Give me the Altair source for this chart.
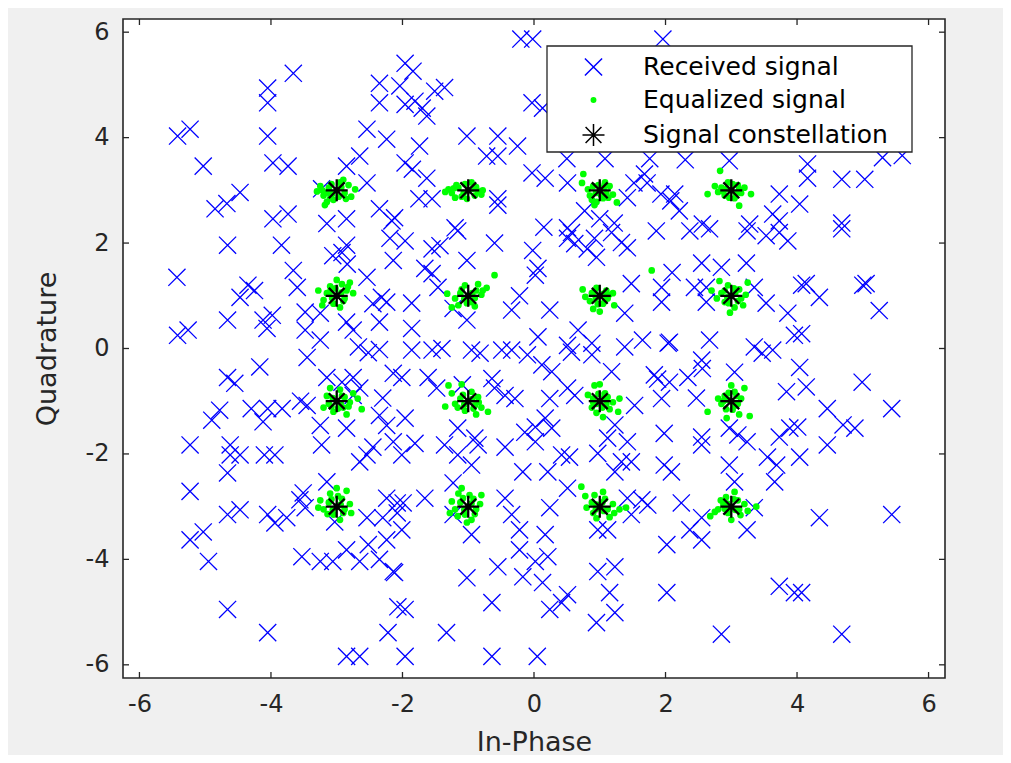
import altair as alt
import pandas as pd

# ---------------- data ----------------
series_names = ["Received signal", "Equalized signal", "Signal constellation"]

received = [
    (-0.2, 5.87), (-0.02, 5.87), (1.96, 5.87), (-1.96, 5.41), (-1.84, 5.26), (-3.66, 5.22),
    (-4.05, 4.94), (-4.05, 4.66), (-2.35, 5.03), (-2.04, 4.98), (-2.35, 4.66), (-1.51, 4.88),
    (-1.36, 4.95), (-1.96, 4.63), (-1.81, 4.69), (-1.7, 4.56), (-1.63, 4.41), (-0.03, 4.66),
    (0.13, 4.56), (-5.42, 4.03), (-5.23, 4.16), (-4.05, 4.03), (-2.54, 4.16), (-2.24, 3.97),
    (-1.02, 4.03), (-0.55, 4.03), (-0.25, 3.84), (-1.74, 3.84), (-5.03, 3.46), (-3.97, 3.52),
    (-3.74, 3.46), (-2.65, 3.65), (-2.85, 3.46), (-0.72, 3.65), (-0.55, 3.65), (-1.96, 3.52),
    (-1.85, 3.4), (-1.63, 3.23), (-0.03, 3.33), (0.17, 3.23), (0.51, 3.14), (-2.54, 3.14),
    (-3.23, 3.03), (-4.47, 2.96), (-4.67, 2.75), (-4.85, 2.65), (-3.97, 2.46), (-3.74, 2.55),
    (-3.15, 2.37), (-2.85, 2.46), (-2.35, 2.65), (-2.16, 2.42), (-1.75, 2.84), (-1.55, 2.84),
    (-0.55, 2.84), (-0.55, 2.72), (0.77, 2.61), (1.0, 2.46), (1.22, 2.38), (1.42, 2.86),
    (1.52, 3.14), (1.72, 3.14), (1.93, 2.93), (2.08, 2.8), (1.68, 3.31), (-2.12, 2.48),
    (-1.2, 2.29), (0.15, 2.3), (0.51, 2.29), (0.5, 3.6), (1.08, 3.6), (1.76, 3.6),
    (2.3, 3.58), (2.97, 3.56), (4.16, 3.5), (4.16, 3.23), (4.68, 3.21), (5.03, 3.21),
    (5.3, 3.62), (5.6, 3.66), (2.14, 2.93), (3.73, 2.93), (4.04, 2.74), (2.21, 2.61),
    (2.56, 2.36), (3.28, 2.36), (3.63, 2.55), (3.73, 2.42), (4.68, 2.38),
    (-4.66, 1.96), (-3.84, 1.96), (-2.85, 1.96), (-3.06, 1.76), (-2.92, 1.82), (-2.84, 1.6),
    (-2.19, 2.09), (-2.14, 1.67), (-5.43, 1.35), (-4.35, 1.2), (-4.25, 1.1), (-4.47, 0.97),
    (-3.66, 1.48), (-3.6, 1.16), (-2.54, 1.35), (-2.32, 0.97), (-2.45, 0.85), (-2.24, 0.88),
    (-4.66, 0.54), (-4.12, 0.54), (-3.98, 0.63), (-4.06, 0.38), (-5.42, 0.25), (-5.26, 0.35),
    (-3.48, 0.69), (-3.25, 0.67), (-3.48, 0.35), (-3.25, 0.16), (-2.85, 0.5), (-2.75, 0.35),
    (-2.35, 0.5), (-2.67, 0.03), (-2.52, -0.08), (-2.35, -0.02), (-3.45, -0.17),
    (-1.16, 2.23), (0.57, 2.2), (0.92, 2.09), (1.18, 2.2), (1.33, 2.01), (1.42, 1.91),
    (1.86, 2.23), (-1.96, 2.04), (-1.55, 1.89), (-1.43, 1.95), (-0.6, 2.0), (-0.02, 1.86),
    (0.51, 2.09), (0.62, 1.99), (0.81, 1.89), (0.95, 1.73), (-1.02, 1.67), (0.06, 1.52),
    (0.02, 1.39), (-1.66, 1.52), (-1.55, 1.42), (-1.46, 1.16), (-1.86, 0.86), (-1.23, 0.76),
    (-1.02, 0.54), (-1.86, 0.38), (-0.22, 1.0), (-0.34, 0.73), (0.24, 0.73), (1.48, 1.23),
    (1.94, 1.16), (1.94, 0.88), (1.38, 0.67), (0.67, 0.35), (0.06, 0.22), (0.88, 0.1),
    (0.51, 0.06), (1.38, 0.03), (1.65, 0.16), (2.04, 0.1),
    (2.37, 2.23), (2.67, 2.27), (3.24, 2.23), (3.53, 2.14), (3.73, 2.2), (3.86, 2.04),
    (4.68, 2.27), (2.55, 1.62), (2.85, 1.54), (3.23, 1.62), (2.1, 1.44), (2.44, 1.16),
    (2.62, 1.16), (3.35, 1.16), (2.62, 0.88), (3.53, 0.86), (3.86, 0.67), (4.07, 1.2),
    (4.14, 1.23), (4.34, 0.97), (5.0, 1.2), (5.05, 1.23), (5.25, 0.72), (2.06, 0.12),
    (2.67, 0.16), (3.35, 0.03), (3.47, -0.09), (3.63, -0.03), (3.96, 0.25), (4.07, 0.28),
    (-4.17, -0.35), (-4.66, -0.55), (-4.55, -0.66), (-3.15, -0.55), (-2.92, -0.64), (-2.75, -0.55),
    (-2.65, -0.75), (-2.14, -0.47), (-4.78, -1.17), (-4.9, -1.36), (-4.3, -1.14), (-4.05, -1.14),
    (-3.83, -1.14), (-4.12, -1.39), (-3.55, -1.0), (-3.45, -1.08), (-3.25, -1.46), (-2.75, -0.89),
    (-2.3, -0.94), (-2.35, -1.27), (-2.24, -1.46), (-2.85, -1.51), (-3.23, -1.83), (-5.23, -1.83),
    (-4.62, -1.83), (-2.45, -1.87), (-2.14, -1.77),
    (-1.86, -0.03), (-1.55, -0.03), (-1.4, 0.0), (-0.95, -0.03), (-0.82, -0.09), (-0.49, -0.03),
    (-0.34, -0.03), (-0.1, -0.12), (0.12, -0.31), (0.27, -0.44), (0.57, -0.07), (0.88, -0.12),
    (1.18, -0.44), (1.83, -0.5), (-2.01, -0.55), (-1.61, -0.55), (-1.48, -0.75), (-1.09, -0.69),
    (-0.64, -0.57), (-0.6, -0.75), (-0.44, -0.89), (-0.29, -0.95), (0.24, -0.95), (0.51, -0.75),
    (0.62, -0.89), (1.53, -1.08), (1.88, -0.58), (1.94, -0.95), (-1.96, -1.32), (-1.16, -1.51),
    (-0.9, -1.7), (-0.85, -1.83), (-1.81, -1.8), (-1.36, -1.83), (-0.44, -1.87), (-0.14, -1.59),
    (0.02, -1.49), (0.02, -1.77), (0.17, -1.32), (0.27, -1.51), (1.23, -1.45), (1.12, -1.7),
    (1.42, -1.77), (1.98, -1.61),
    (2.55, -0.22), (2.56, -0.38), (2.34, -0.55), (3.05, -0.45), (4.04, -0.36), (4.99, -0.64),
    (4.14, -0.73), (3.84, -0.82), (2.47, -0.94), (2.06, -0.64), (4.46, -1.14), (5.44, -1.14),
    (4.01, -1.49), (3.89, -1.51), (3.73, -1.68), (4.7, -1.45), (4.88, -1.51), (2.97, -1.51),
    (3.1, -1.64), (3.24, -1.77), (2.55, -1.68), (2.55, -1.83), (4.46, -1.83),
    (-4.62, -2.02), (-4.47, -2.02), (-3.94, -2.02), (-4.1, -2.02), (-2.65, -2.15), (-2.54, -2.02),
    (-4.66, -2.36), (-5.23, -2.71), (-3.15, -2.53), (-3.51, -2.74), (-3.56, -2.87), (-3.48, -3.02),
    (-2.24, -2.84), (-2.08, -2.93), (-4.66, -3.15), (-4.47, -3.06), (-4.05, -3.15), (-3.94, -3.31),
    (-3.76, -3.21), (-3.03, -3.29), (-2.54, -3.21), (-2.3, -3.21), (-2.08, -3.12), (-5.23, -3.63),
    (-5.03, -3.48), (-4.95, -4.04), (-3.53, -3.95), (-3.25, -4.04), (-3.06, -4.04), (-2.85, -3.82),
    (-2.65, -4.04), (-2.52, -3.72), (-2.35, -4.0), (-2.24, -3.63), (-2.14, -4.23), (-4.66, -4.95),
    (-4.05, -5.39), (-2.22, -5.39), (-2.07, -4.9), (-2.85, -5.84), (-2.65, -5.84),
    (-2.01, -2.02), (-1.16, -2.02), (-0.95, -2.21), (-0.17, -2.34), (0.21, -2.34), (0.42, -2.02),
    (0.54, -2.06), (0.97, -1.99), (1.33, -2.15), (1.48, -2.15), (1.23, -2.34), (1.98, -2.21),
    (2.09, -2.34), (-1.23, -2.55), (0.51, -2.65), (-1.66, -2.84), (-0.44, -2.84), (-0.34, -3.15),
    (0.24, -3.02), (-1.99, -2.93), (-2.01, -3.44), (-0.95, -3.53), (-1.23, -3.15), (-0.22, -3.44),
    (0.17, -3.53), (0.97, -3.44), (1.12, -3.44), (1.42, -2.84), (1.64, -2.87), (1.73, -2.97),
    (1.48, -3.15), (-0.22, -3.82), (0.02, -4.04), (0.21, -3.95), (-0.55, -4.14), (-1.02, -4.35),
    (-0.17, -4.33), (0.13, -4.44), (0.97, -4.23), (1.23, -4.14), (1.15, -4.63), (0.51, -4.67),
    (0.42, -4.82), (0.24, -4.95), (1.23, -5.01), (0.95, -5.2), (-0.64, -4.82), (-1.96, -4.95),
    (-1.33, -5.39), (-1.96, -5.84), (-0.64, -5.84), (0.05, -5.84), (2.02, -3.72), (2.02, -4.63),
    (-2.12, -4.25),
    (2.97, -2.21), (3.05, -2.53), (3.55, -2.06), (3.69, -2.21), (3.66, -2.53), (4.04, -2.06),
    (2.24, -2.93), (2.55, -3.21), (2.37, -3.44), (2.55, -3.63), (3.24, -3.44), (3.35, -3.02),
    (4.34, -3.21), (5.44, -3.15), (3.73, -4.51), (3.96, -4.63), (4.07, -4.63), (2.85, -5.42),
    (4.68, -5.42),
]

equalized = [
    # around (-3, 3)
    (-3.0, 3.0), (-3.12, 3.05), (-2.88, 2.95), (-3.2, 2.9), (-3.25, 3.08), (-2.82, 3.1), (-3.05, 2.82),
    (-2.95, 3.15), (-3.15, 2.78), (-2.78, 2.88), (-3.3, 2.98), (-2.9, 3.2), (-3.08, 3.12), (-2.72, 3.02),
    (-3.18, 2.72), (-2.93, 3.06), (-3.07, 2.93), (-2.86, 2.84), (-3.14, 2.96), (-2.97, 2.88),
    (-3.1, 2.85), (-3.22, 3.0),
    # around (-1, 3)
    (-1.0, 3.0), (-1.15, 3.05), (-1.25, 2.95), (-0.88, 3.06), (-0.8, 2.92), (-1.1, 2.88), (-0.95, 3.15),
    (-1.3, 3.02), (-1.05, 3.12), (-0.78, 3.0), (-1.2, 2.86), (-0.9, 2.9), (-1.35, 2.97),
    (-1.07, 2.95), (-0.93, 3.03), (-1.18, 3.1), (-0.85, 2.98), (-1.02, 2.84), (-1.22, 3.04),
    # around (1, 3)
    (1.0, 3.0), (0.9, 3.08), (1.1, 2.95), (0.85, 2.9), (1.15, 3.08), (1.05, 2.85), (0.95, 2.78),
    (1.2, 2.92), (0.82, 3.02), (1.08, 3.15), (1.26, 2.77), (0.75, 3.31), (0.73, 3.14), (0.92, 2.72),
    (0.94, 2.95), (1.06, 3.05), (0.88, 2.82), (1.13, 2.86), (0.98, 3.1), (1.02, 2.91),
    # around (3, 3)
    (3.0, 3.0), (2.85, 3.05), (3.15, 2.95), (2.9, 2.9), (3.1, 3.1), (2.8, 2.97), (3.2, 3.05),
    (2.95, 3.15), (3.05, 2.85), (2.83, 3.37), (2.64, 2.93), (3.12, 2.71), (3.3, 2.93), (2.75, 3.08),
    (2.93, 3.03), (3.07, 2.94), (2.97, 2.86), (3.12, 3.02), (2.88, 2.98), (3.02, 3.12),
    # around (-3, 1)
    (-3.0, 1.0), (-3.15, 1.05), (-2.85, 1.1), (-3.2, 0.92), (-2.92, 1.22), (-2.8, 1.25), (-3.05, 0.85),
    (-3.28, 1.1), (-2.88, 0.95), (-3.1, 1.18), (-2.95, 0.78), (-3.22, 0.82), (-2.75, 1.05), (-3.0, 1.3),
    (-3.07, 0.96), (-2.93, 1.06), (-3.1, 1.08), (-2.9, 0.9), (-3.02, 1.14), (-2.83, 1.17),
    # around (-1, 1)
    (-1.0, 1.0), (-1.12, 1.05), (-0.88, 1.1), (-0.95, 0.88), (-1.2, 0.95), (-0.8, 1.02), (-1.05, 1.2),
    (-0.85, 1.22), (-1.15, 0.82), (-0.72, 1.15), (-0.6, 1.39), (-1.32, 1.04), (-1.25, 0.78), (-0.9, 0.8),
    (-1.06, 0.94), (-0.94, 1.05), (-1.1, 1.12), (-0.9, 0.96), (-1.02, 0.86), (-0.78, 1.1),
    # around (1, 1)
    (1.0, 1.0), (0.88, 1.05), (1.12, 0.95), (0.85, 0.9), (1.1, 1.1), (0.95, 1.15), (0.78, 0.98),
    (1.2, 1.05), (1.05, 0.85), (0.9, 0.75), (1.22, 0.82), (0.74, 1.12), (1.79, 1.48), (1.0, 0.7),
    (0.94, 0.96), (1.06, 1.04), (0.92, 1.08), (1.08, 0.92), (0.97, 0.84), (1.14, 1.02),
    # around (3, 1)
    (3.0, 1.0), (2.85, 1.05), (3.15, 0.95), (2.9, 0.88), (3.12, 1.12), (2.95, 1.2), (2.78, 0.95),
    (3.22, 1.02), (3.05, 0.78), (2.7, 1.1), (3.25, 1.25), (2.82, 1.28), (2.98, 0.68), (3.18, 0.82),
    (2.94, 0.97), (3.06, 1.05), (2.9, 1.1), (3.1, 0.9), (2.96, 0.86), (3.04, 1.14),
    # around (-3, -1)
    (-3.0, -1.0), (-2.88, -0.92), (-3.12, -1.05), (-2.9, -1.12), (-3.15, -0.9), (-2.8, -1.02),
    (-3.05, -1.2), (-2.75, -0.85), (-3.2, -1.12), (-2.95, -0.78), (-2.68, -0.95), (-3.1, -0.75),
    (-2.85, -1.25), (-2.62, -1.15), (-2.94, -1.04), (-3.06, -0.94), (-2.92, -0.9), (-3.08, -1.1),
    (-2.98, -1.14), (-2.82, -1.1),
    # around (-1, -1)
    (-1.0, -1.0), (-0.9, -1.08), (-1.12, -0.95), (-0.85, -0.92), (-1.2, -1.05), (-1.05, -1.18),
    (-0.8, -1.12), (-1.25, -0.85), (-0.95, -0.82), (-1.35, -1.1), (-0.7, -1.2), (-1.1, -0.68),
    (-1.3, -0.7), (-0.88, -1.25), (-1.06, -1.06), (-0.94, -0.96), (-1.08, -0.88), (-0.92, -1.14),
    (-1.16, -1.12), (-0.84, -1.02),
    # around (1, -1)
    (1.0, -1.0), (0.9, -0.95), (1.1, -1.05), (0.88, -1.12), (1.08, -0.85), (1.2, -1.02), (0.82, -0.88),
    (0.95, -1.22), (1.15, -1.15), (1.3, -0.95), (1.05, -1.3), (0.92, -0.7), (1.0, -0.68), (1.28, -1.2),
    (0.95, -1.05), (1.06, -0.94), (0.98, -0.86), (1.12, -0.92), (0.9, -1.02), (1.04, -1.12),
    # around (3, -1)
    (3.0, -1.0), (2.9, -0.9), (3.1, -1.05), (2.85, -1.05), (3.05, -0.82), (3.15, -0.95), (2.92, -1.15),
    (3.2, -0.75), (2.8, -0.95), (3.0, -0.7), (2.64, -1.2), (3.28, -1.28), (2.93, -1.32), (3.12, -1.25),
    (2.95, -0.97), (3.06, -1.08), (2.96, -0.84), (3.08, -0.9), (2.88, -1.0), (3.02, -1.16),
    # around (-3, -3)
    (-3.0, -3.0), (-3.12, -2.92), (-2.88, -3.05), (-3.05, -3.15), (-2.92, -2.85), (-3.2, -3.05),
    (-2.8, -2.95), (-3.1, -2.75), (-2.95, -3.25), (-3.25, -2.88), (-2.78, -3.12), (-2.85, -2.7),
    (-3.28, -3.02), (-3.0, -2.65), (-2.94, -2.96), (-3.06, -3.06), (-3.08, -2.86), (-2.9, -3.12),
    (-3.14, -3.14), (-2.98, -2.8),
    # around (-1, -3)
    (-1.0, -3.0), (-1.12, -2.92), (-0.88, -3.05), (-1.05, -3.15), (-0.92, -2.85), (-1.2, -3.05),
    (-0.82, -2.95), (-1.15, -2.75), (-0.95, -3.25), (-1.25, -2.9), (-1.28, -3.12), (-0.8, -2.78),
    (-1.1, -2.65), (-1.02, -3.3), (-0.95, -2.94), (-1.06, -3.06), (-1.08, -2.84), (-0.9, -3.14),
    (-1.16, -3.18), (-0.98, -2.78),
    # around (1, -3)
    (1.0, -3.0), (0.88, -2.92), (1.12, -3.05), (0.9, -3.12), (1.08, -2.85), (1.2, -2.95), (0.8, -3.02),
    (0.95, -3.22), (1.15, -3.2), (1.3, -3.05), (0.78, -2.8), (0.72, -2.62), (1.4, -3.02), (1.05, -2.72),
    (0.92, -2.78), (0.95, -2.96), (1.06, -3.08), (0.94, -3.05), (1.04, -2.92), (1.22, -3.12),
    # around (3, -3)
    (3.0, -3.0), (2.88, -2.95), (3.12, -3.05), (2.95, -3.12), (3.1, -2.88), (2.8, -3.05), (3.2, -2.95),
    (2.75, -3.1), (3.05, -2.72), (3.25, -3.08), (2.68, -3.18), (3.38, -3.0), (2.92, -2.82), (3.0, -3.25),
    (2.94, -2.94), (3.06, -3.06), (3.04, -2.86), (2.9, -3.04), (3.14, -3.16), (2.84, -2.88),
]

constellation = [
    (-3, 3), (-1, 3), (1, 3), (3, 3),
    (-3, 1), (-1, 1), (1, 1), (3, 1),
    (-3, -1), (-1, -1), (1, -1), (3, -1),
    (-3, -3), (-1, -3), (1, -3), (3, -3),
]

tick_values = [-6, -4, -2, 0, 2, 4, 6]

# ---------------- build table ----------------
rows = []
for name, pts in zip(series_names, [received, equalized, constellation]):
    for (a, b) in pts:
        rows.append({"I": a, "Q": b, "s": name})
df = pd.DataFrame(rows)
ticks_df = pd.DataFrame({"t": tick_values})

FONT = "DejaVu Sans"
INK = "#262626"
GREEN = "#00ff00"
W, H = 822, 659

xs = alt.Scale(domain=[-6.25, 6.25], nice=False, zero=False)
ys = alt.Scale(domain=[-6.25, 6.25], nice=False, zero=False)

LBL = "'' + datum.value"
x_axis = alt.Axis(values=tick_values, title="In-Phase", grid=False, domain=False, ticks=False,
                  tickSize=0, labelPadding=14, titlePadding=13, labelExpr=LBL)
y_axis = alt.Axis(values=tick_values, title="Quadrature", grid=False, domain=False, ticks=False,
                  tickSize=0, labelPadding=14, titlePadding=24, labelExpr=LBL)

# marker outlines (open paths have no area, so only the dot gets the green fill)
x_path = "M-0.78,-0.78L0.78,0.78M-0.78,0.78L0.78,-0.78"
dot_path = "M-0.2,0A0.2,0.2,0,1,1,0.2,0A0.2,0.2,0,1,1,-0.2,0Z"
star_path = "M-1,0L1,0M0,-1L0,1M-0.72,-0.72L0.72,0.72M-0.72,0.72L0.72,-0.72"

leg = alt.Legend(title=None, orient="none", legendX=458, legendY=35.5, padding=0,
                 labelFontSize=25, labelFont=FONT, labelColor="#000000", labelLimit=0,
                 symbolSize=484, symbolStrokeWidth=1.5, symbolFillColor=GREEN,
                 labelOffset=37, rowPadding=7,
                 strokeColor="transparent", fillColor="transparent")

points = alt.Chart(df).mark_point(filled=False, size=484, opacity=1, fill=GREEN, fillOpacity=1).encode(
    x=alt.X("I:Q", scale=xs, axis=x_axis),
    y=alt.Y("Q:Q", scale=ys, axis=y_axis),
    color=alt.Color("s:N", scale=alt.Scale(domain=series_names,
                                          range=["#0000ff", GREEN, "#000000"]), legend=leg),
    shape=alt.Shape("s:N", scale=alt.Scale(domain=series_names,
                                          range=[x_path, dot_path, star_path]), legend=leg),
    strokeWidth=alt.condition("datum.s == 'Received signal'", alt.value(1.3), alt.value(2.3)),
)

tick_x = dict(x=alt.X("t:Q", scale=xs, axis=x_axis))
tick_y = dict(y=alt.Y("t:Q", scale=ys, axis=y_axis))
rule = dict(color=INK, strokeWidth=1.3)

ticks_bottom = alt.Chart(ticks_df).mark_rule(**rule).encode(**tick_x, y=alt.value(H), y2=alt.value(H - 6))
ticks_top = alt.Chart(ticks_df).mark_rule(**rule).encode(**tick_x, y=alt.value(0), y2=alt.value(6))
ticks_left = alt.Chart(ticks_df).mark_rule(**rule).encode(**tick_y, x=alt.value(0), x2=alt.value(6))
ticks_right = alt.Chart(ticks_df).mark_rule(**rule).encode(**tick_y, x=alt.value(W), x2=alt.value(W - 6))

legend_box = alt.Chart(pd.DataFrame({"k": [0]})).mark_rect(
    fill="white", stroke=INK, strokeWidth=1.3
).encode(x=alt.value(424), x2=alt.value(789), y=alt.value(27), y2=alt.value(133))

chart = alt.layer(points, ticks_bottom, ticks_top, ticks_left, ticks_right, legend_box).properties(
    width=W, height=H,
    padding={"left": 115, "top": 11, "right": 58, "bottom": 77},
    autosize=alt.AutoSizeParams(type="none"),
    background="#f0f0f0",
).configure_view(
    fill="white", stroke=INK, strokeWidth=1.6
).configure_axis(
    labelFont=FONT, labelFontSize=24, labelColor=INK,
    titleFont=FONT, titleFontSize=27, titleColor=INK, titleFontWeight="normal",
)

chart.save("out.html", embed_options={"renderer": "svg", "actions": False})
